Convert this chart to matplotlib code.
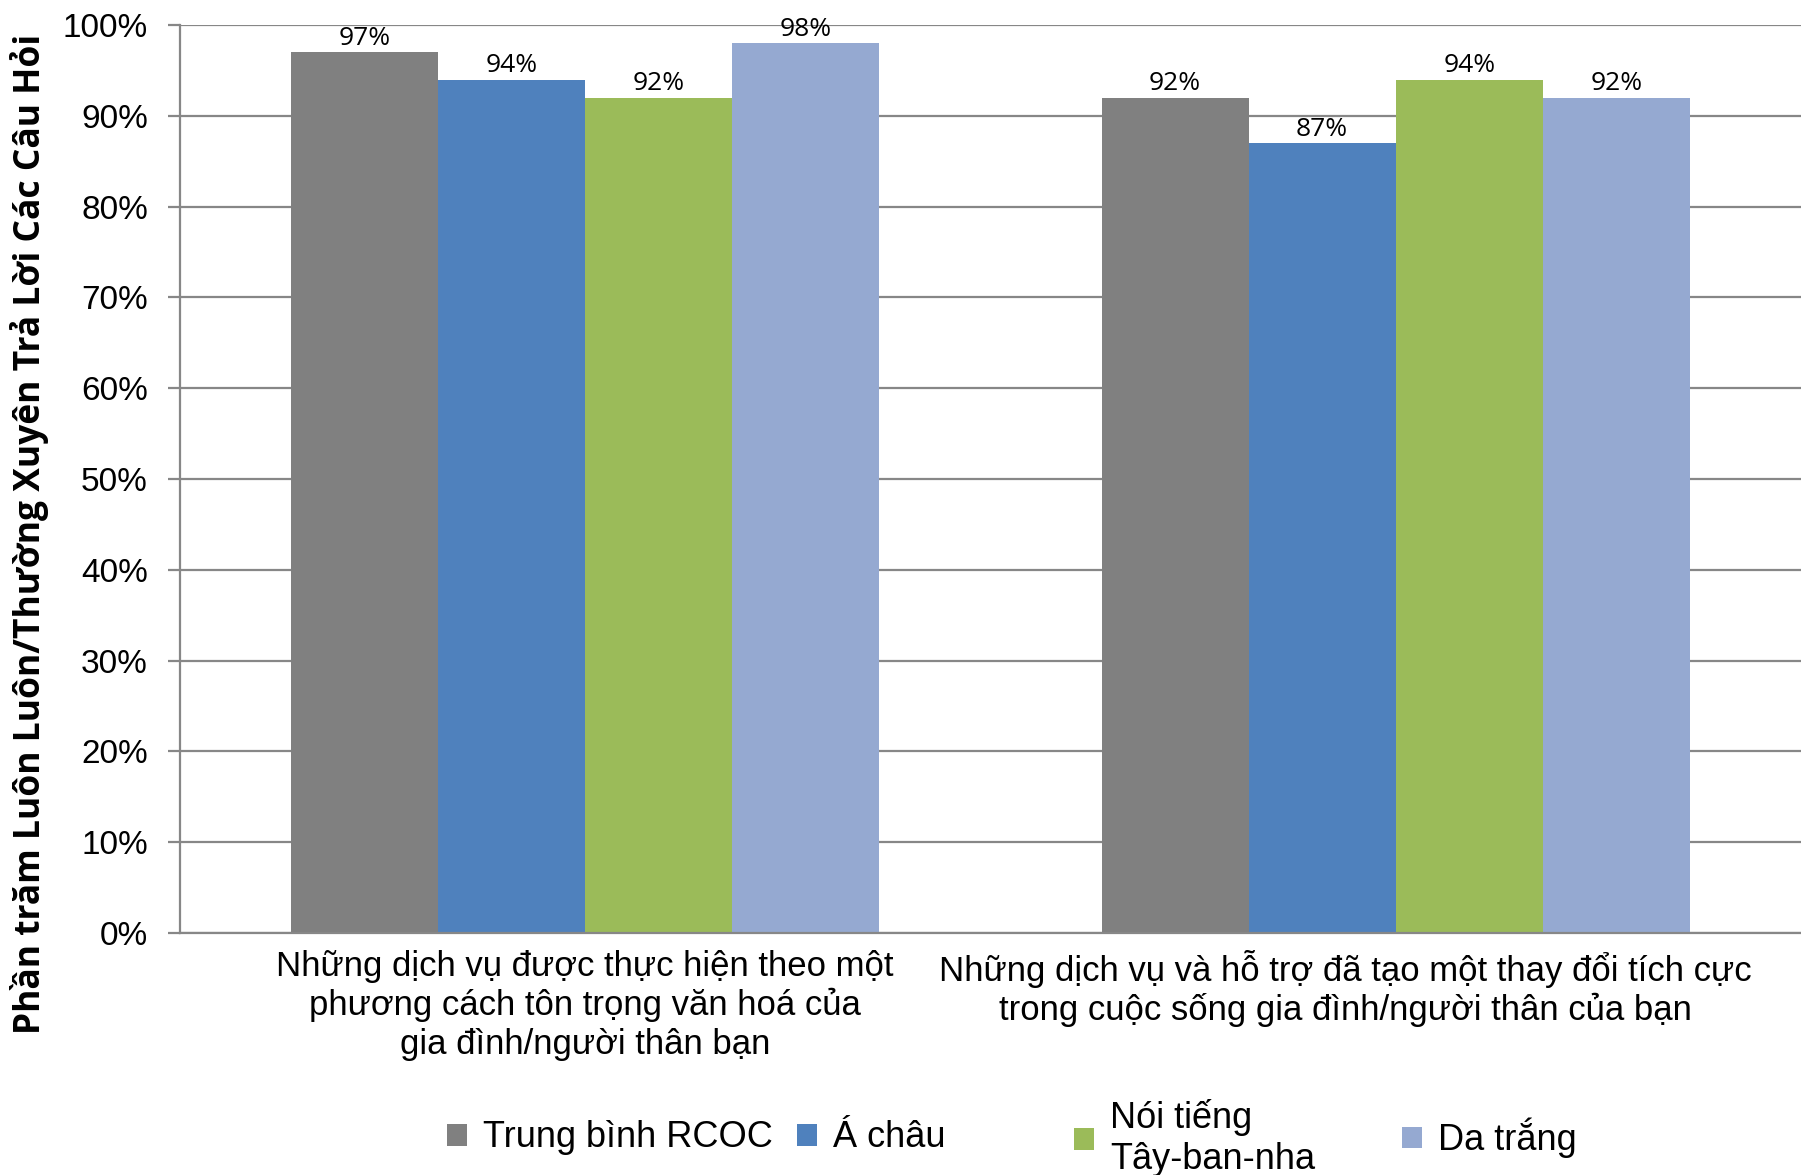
#!/usr/bin/env python

""" Grouped bar chart of survey responses by group
"""

import numpy as np
import matplotlib
matplotlib.use("Agg")
import matplotlib.pyplot as plt
from matplotlib.patches import Patch
from matplotlib.transforms import ScaledTranslation

categories = ["Những dịch vụ được thực hiện theo một\nphương cách tôn trọng văn hoá của\ngia đình/người thân bạn",
              "Những dịch vụ và hỗ trợ đã tạo một thay đổi tích cực\ntrong cuộc sống gia đình/người thân của bạn"]
series_names = ["Trung bình RCOC", "Á châu", "Nói tiếng\nTây-ban-nha", "Da trắng"]
rcoc = [97, 92]
asian = [94, 87]
hispanic = [92, 94]
white = [98, 92]
colors = ["#808080", "#4F81BD", "#9BBB59", "#95A9D1"]
yticks = np.arange(0, 101, 10)

plt.rcParams['font.family'] = ['Liberation Sans', 'DejaVu Sans']

fig = plt.figure(figsize=(18.01, 11.75), dpi=100)
ax = fig.add_axes([0.0999, 0.206, 0.9001, 0.7727])

x = np.arange(len(categories))
width = 0.1815
all_series = [rcoc, asian, hispanic, white]
for i, (vals, col) in enumerate(zip(all_series, colors)):
    pos = x + (i - 1.5) * width
    bars = ax.bar(pos, vals, width, color=col, zorder=2)
    for b, v in zip(bars, vals):
        ax.annotate("%d%%" % v, (b.get_x() + b.get_width() / 2, v),
                    xytext=(0, 1), textcoords="offset points",
                    ha="center", va="bottom", fontsize=19,
                    family=["Open Sans", "DejaVu Sans"])

ax.set_xlim(-0.5, 1.5)
ax.set_ylim(0, 100)
ax.set_yticks(yticks)
ax.set_yticklabels(["%d%%" % t for t in yticks], fontsize=24)
ax.yaxis.grid(True, color="#878787", linewidth=1.6, zorder=0)
ax.set_axisbelow(True)
ax.tick_params(axis="y", length=9, width=1.6, color="#878787", pad=14)
ax.tick_params(axis="x", length=0, pad=12)
ax.set_xticks(x)
ax.set_xticklabels(categories, fontsize=25, linespacing=1.2, va="top")
# the second label is pulled left so it stays inside the chart
lbl = ax.get_xticklabels()[1]
lbl.set_transform(lbl.get_transform() + ScaledTranslation(-0.5, 0, fig.dpi_scale_trans))
for s in ["top", "right"]:
    ax.spines[s].set_visible(False)
ax.spines["left"].set_color("#878787")
ax.spines["left"].set_linewidth(1.6)
ax.spines["bottom"].set_color("#878787")
ax.spines["bottom"].set_linewidth(1.6)

ax.set_ylabel("Phần trăm Luôn Luôn/Thường Xuyên Trả Lời Các Câu Hỏi",
              fontsize=25.5, fontweight="bold", family=["Open Sans", "DejaVu Sans"])
ax.yaxis.set_label_coords(-0.081, 0.44)

# legend entries spaced like the original (uneven columns)
leg_x = [447, 797, 1074, 1402]
for name, col, lx in zip(series_names, colors, leg_x):
    leg = fig.legend([Patch(facecolor=col)], [name], loc="center left",
                     bbox_to_anchor=(lx / 1801, 0.0315), frameon=False,
                     fontsize=26, handlelength=0.55, handleheight=0.55,
                     handletextpad=0.45, borderpad=0, borderaxespad=0)

fig.savefig("out.png", dpi=100)
